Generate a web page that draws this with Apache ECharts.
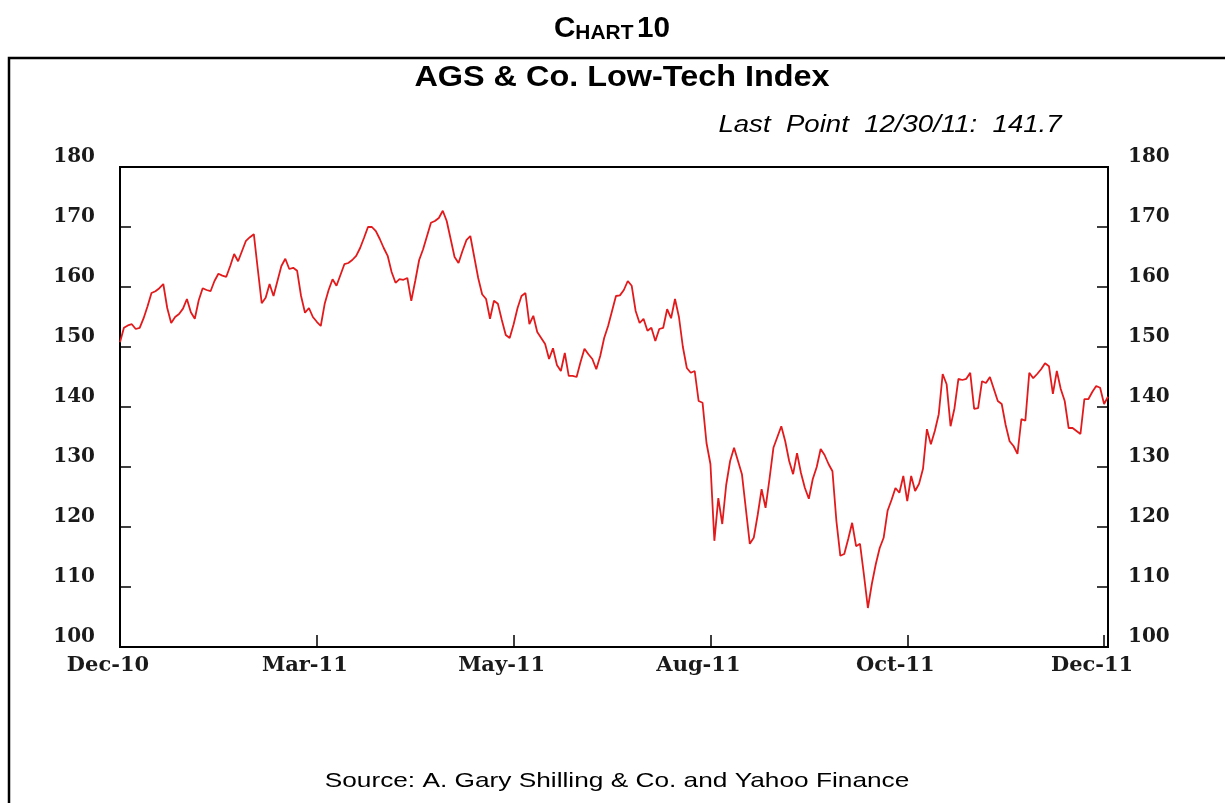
<!DOCTYPE html>
<html>
<head>
<meta charset="utf-8">
<script src="https://cdn.jsdelivr.net/npm/echarts@6/dist/echarts.min.js"></script>
<style>
  html, body { margin: 0; padding: 0; background: #fff; }
  #chart { width: 1225px; height: 803px; }
</style>
</head>
<body>
<div id="chart"></div>
<script>
// x-axis tick labels, one every 50 trading days
var tickLabels = ['Dec-10', 'Mar-11', 'May-11', 'Aug-11', 'Oct-11', 'Dec-11'];
var tickStep = 50;

// AGS & Co. Low-Tech Index, daily closes (Dec 31 2010 .. Dec 30 2011)
var values = [
	150.8, 153.2, 153.6, 153.8, 153.0, 153.2, 154.8, 156.8, 159.0, 159.3,
	159.8, 160.5, 156.5, 154.0, 155.0, 155.5, 156.4, 158.0, 155.8, 154.7,
	157.8, 159.8, 159.5, 159.3, 161.0, 162.2, 161.9, 161.7, 163.5, 165.5,
	164.3, 166.0, 167.7, 168.3, 168.8, 163.0, 157.3, 158.2, 160.5, 158.5,
	161.0, 163.5, 164.7, 163.0, 163.2, 162.7, 158.5, 155.7, 156.5, 155.0,
	154.2, 153.5, 157.2, 159.5, 161.3, 160.2, 162.0, 163.8, 164.0, 164.5,
	165.2, 166.5, 168.2, 170.0, 170.0, 169.3, 168.0, 166.5, 165.2, 162.5,
	160.7, 161.3, 161.2, 161.5, 157.7, 161.0, 164.5, 166.3, 168.5, 170.7,
	171.0, 171.5, 172.7, 171.0, 168.0, 165.0, 164.0, 166.0, 167.8, 168.5,
	165.0, 161.5, 158.8, 158.0, 154.7, 157.7, 157.2, 154.5, 152.0, 151.5,
	153.8, 156.5, 158.5, 159.0, 153.8, 155.2, 152.5, 151.5, 150.5, 148.0,
	149.8, 147.0, 146.0, 149.0, 145.2, 145.2, 145.0, 147.5, 149.7, 148.8,
	148.0, 146.3, 148.5, 151.5, 153.5, 156.0, 158.5, 158.6, 159.5, 161.0,
	160.2, 156.0, 154.0, 154.7, 152.7, 153.2, 151.0, 153.0, 153.2, 156.3,
	154.8, 158.0, 155.0, 150.0, 146.5, 145.7, 146.0, 141.0, 140.7, 134.0,
	130.5, 117.7, 124.8, 120.5, 127.0, 131.0, 133.2, 131.0, 128.8, 123.0,
	117.2, 118.2, 122.0, 126.3, 123.2, 128.0, 133.2, 135.0, 136.8, 134.3,
	131.0, 128.8, 132.3, 129.0, 126.5, 124.7, 128.0, 130.0, 133.0, 132.0,
	130.5, 129.3, 121.0, 115.2, 115.5, 118.0, 120.7, 116.8, 117.2, 112.0,
	106.5, 110.5, 113.8, 116.5, 118.2, 122.7, 124.5, 126.5, 125.7, 128.5,
	124.3, 128.5, 126.0, 127.2, 129.7, 136.3, 133.8, 136.0, 138.8, 145.5,
	143.8, 136.8, 139.8, 144.7, 144.5, 144.7, 145.7, 139.7, 139.8, 144.3,
	144.0, 145.0, 143.0, 141.0, 140.5, 137.0, 134.3, 133.5, 132.2, 138.0,
	137.7, 145.7, 144.8, 145.5, 146.3, 147.3, 146.8, 142.2, 146.0, 143.0,
	141.0, 136.5, 136.5, 136.0, 135.5, 141.3, 141.3, 142.5, 143.5, 143.2,
	140.5, 141.7
];

var categories = values.map(function (v, i) { return String(i); });

var chart = echarts.init(document.getElementById('chart'), null, { renderer: 'canvas' });

var yLabel = {
	color: '#1a1a1a',
	fontFamily: 'DejaVu Serif',
	fontWeight: 'bold',
	fontSize: 20,
	verticalAlign: 'bottom'
};

var option = {
	backgroundColor: '#ffffff',
	animation: false,
	graphic: [
		// outer frame (only top and left edges fall inside the picture)
		{ type: 'rect', shape: { x: 9, y: 58, width: 1300, height: 900 }, style: { fill: 'none', stroke: '#000', lineWidth: 2.5 } },
		{
			type: 'text', x: 612, y: 27, scaleX: 1.1, scaleY: 1.1,
			style: {
				text: '{c|C}{s|HART} {c|10}',
				textAlign: 'center', textVerticalAlign: 'middle',
				rich: {
					c: { fontFamily: 'Liberation Sans', fontWeight: 'bold', fontSize: 27, fill: '#000', lineHeight: 30, verticalAlign: 'bottom' },
					s: { fontFamily: 'Liberation Sans', fontWeight: 'bold', fontSize: 19, fill: '#000', lineHeight: 30, verticalAlign: 'bottom' }
				}
			}
		},
		{
			type: 'text', x: 622, y: 78, scaleX: 1.2, scaleY: 1.1,
			style: { text: 'AGS & Co. Low-Tech Index', font: 'bold 27px "Liberation Sans"', fill: '#000', textAlign: 'center', textVerticalAlign: 'middle' }
		},
		{
			type: 'text', x: 890, y: 126, scaleX: 1.2,
			style: { text: 'Last  Point  12/30/11:  141.7', font: 'italic 23px "Liberation Sans"', fill: '#000', textAlign: 'center', textVerticalAlign: 'middle' }
		},
		{
			type: 'text', x: 617, y: 781, scaleX: 1.25,
			style: { text: 'Source: A. Gary Shilling & Co. and Yahoo Finance', font: '21px "Liberation Sans"', fill: '#000', textAlign: 'center', textVerticalAlign: 'middle' }
		}
	],
	grid: {
		left: 120,
		right: 117,
		top: 167,
		bottom: 156,
		show: true,
		borderColor: '#000',
		borderWidth: 2
	},
	xAxis: {
		type: 'category',
		data: categories,
		boundaryGap: false,
		axisLine: { lineStyle: { color: '#000', width: 2 } },
		axisTick: { inside: true, length: 12, interval: tickStep - 1, lineStyle: { color: '#000', width: 1.5 } },
		axisLabel: {
			interval: tickStep - 1,
			margin: 8,
			color: '#1a1a1a',
			fontFamily: 'DejaVu Serif',
			fontWeight: 'bold',
			fontSize: 21,
			padding: [0, 24, 0, 0],
			formatter: function (v, i) {
				return i % tickStep === 0 ? tickLabels[i / tickStep] : '';
			}
		},
		splitLine: { show: false }
	},
	yAxis: [{
		type: 'value',
		position: 'left',
		min: 100,
		max: 180,
		interval: 10,
		axisLine: { show: true, lineStyle: { color: '#000', width: 2 } },
		axisTick: { show: true, inside: true, length: 11, lineStyle: { color: '#000', width: 1.5 } },
		axisLabel: Object.assign({ margin: 25 }, yLabel),
		splitLine: { show: false }
	}, {
		type: 'value',
		position: 'right',
		min: 100,
		max: 180,
		interval: 10,
		axisLine: { show: true, lineStyle: { color: '#000', width: 2 } },
		axisTick: { show: true, inside: true, length: 11, lineStyle: { color: '#000', width: 1.5 } },
		axisLabel: Object.assign({ margin: 20 }, yLabel),
		splitLine: { show: false }
	}],
	series: [{
		name: 'AGS & Co. Low-Tech Index',
		type: 'line',
		data: values,
		showSymbol: false,
		smooth: false,
		lineStyle: { color: '#e31a1c', width: 1.8 },
		itemStyle: { color: '#e31a1c' }
	}]
};

chart.setOption(option);
</script>
</body>
</html>
